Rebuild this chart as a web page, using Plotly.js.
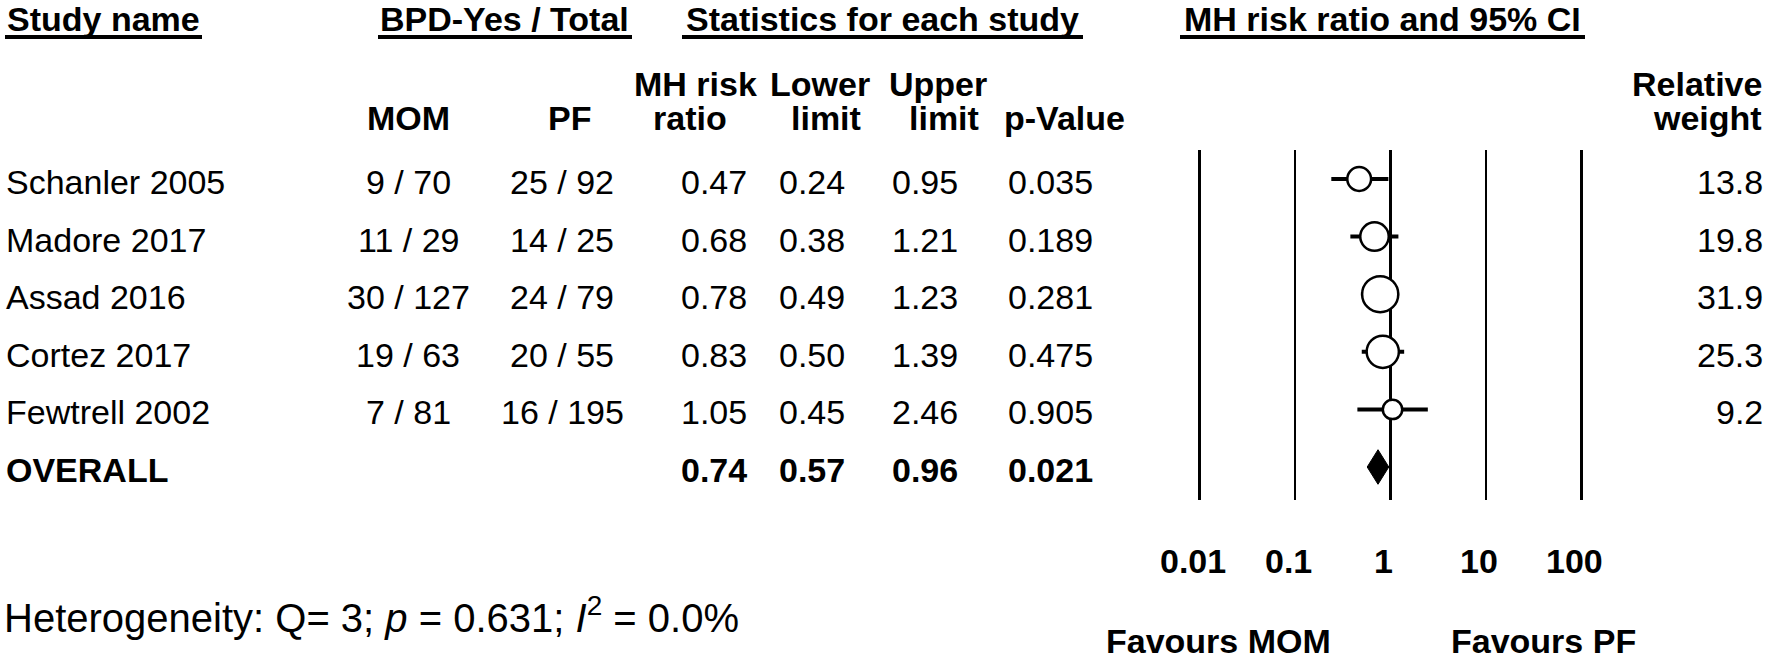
<!DOCTYPE html>
<html>
<head>
<meta charset="utf-8">
<script src="https://cdn.plot.ly/plotly-3.0.1.min.js"></script>
<style>html,body{margin:0;padding:0;background:#fff;}#chart{width:1772px;height:659px;}</style>
</head>
<body>
<div id="chart"></div>
<script>
// ---- data ----
const studies = ['Schanler 2005', 'Madore 2017', 'Assad 2016', 'Cortez 2017', 'Fewtrell 2002'];
const momEvents = [9, 11, 30, 19, 7];
const momTotal = [70, 29, 127, 63, 81];
const pfEvents = [25, 14, 24, 20, 16];
const pfTotal = [92, 25, 79, 55, 195];
const riskRatio = [0.47, 0.68, 0.78, 0.83, 1.05];
const lowerLimit = [0.24, 0.38, 0.49, 0.50, 0.45];
const upperLimit = [0.95, 1.21, 1.23, 1.39, 2.46];
const pValue = ['0.035', '0.189', '0.281', '0.475', '0.905'];
const relWeight = [13.8, 19.8, 31.9, 25.3, 9.2];
const overallLabel = 'OVERALL';
const overallRR = 0.74, overallLower = 0.57, overallUpper = 0.96, overallP = '0.021';
const tickVals = [0.01, 0.1, 1, 10, 100];
const tickLabels = ['0.01', '0.1', '1', '10', '100'];
const heterogeneity = 'Heterogeneity: Q= 3; <i>p</i> = 0.631; <i>I</i><sup>2</sup> = 0.0%';

// ---- layout helpers (pixels) ----
const W = 1772, H = 659;
const FONT = '"Liberation Sans", Arial, sans-serif';
const FS = 34;
const px = p => p / W;
const py = p => 1 - p / H;

const ONE_PX = 1390.5, DEC_PX = 95.5;       // x position of RR=1, pixels per decade
const PLOT_L = 1150, PLOT_R = 1650;
const PLOT_T = 150, PLOT_B = 500;
const ROW0_PX = 179, ROW_PX = 57.6;

const xRange = [(PLOT_L - ONE_PX) / DEC_PX, (PLOT_R - ONE_PX) / DEC_PX];
const yRange = [(PLOT_B - ROW0_PX) / ROW_PX, (PLOT_T - ROW0_PX) / ROW_PX];

const n = studies.length;
const rows = studies.map((_, i) => i);

// ---- traces ----
const studyTrace = {
  type: 'scatter', mode: 'markers',
  x: riskRatio, y: rows,
  marker: {
    symbol: 'circle', color: '#ffffff', opacity: 1,
    size: relWeight.map(w => Math.sqrt(w) * 6.4),
    line: {color: '#000', width: 2.5}
  },
  error_x: {
    type: 'data', symmetric: false,
    array: riskRatio.map((r, i) => upperLimit[i] - r),
    arrayminus: riskRatio.map((r, i) => r - lowerLimit[i]),
    color: '#000', thickness: 4, width: 0
  },
  hoverinfo: 'skip', showlegend: false
};

const dh = 0.3;
const diamondTrace = {
  type: 'scatter', mode: 'lines',
  x: [overallLower, overallRR, overallUpper, overallRR, overallLower],
  y: [n, n - dh, n, n + dh, n],
  fill: 'toself', fillcolor: '#000',
  line: {color: '#000', width: 1},
  hoverinfo: 'skip', showlegend: false
};

// ---- annotations ----
const ann = [];
function txt(text, x, y, opts) {
  ann.push(Object.assign({
    text: text, x: x, y: y, xref: 'paper', yref: 'paper',
    showarrow: false, xanchor: 'center', yanchor: 'middle', borderpad: 0,
    font: {family: FONT, size: FS, color: '#000'}
  }, opts || {}));
}

// top headers
const headers = [
  {t: 'Study name', l: 5, r: 202},
  {t: 'BPD-Yes / Total', l: 378, r: 632},
  {t: 'Statistics for each study', l: 682, r: 1083},
  {t: 'MH risk ratio and 95% CI', l: 1180, r: 1585}
];
const shapes = [];
headers.forEach(h => {
  txt('<b>' + h.t + '</b>', px((h.l + h.r) / 2), py(19));
  shapes.push({type: 'line', xref: 'paper', yref: 'paper',
    x0: px(h.l), x1: px(h.r), y0: py(37), y1: py(37),
    line: {color: '#000', width: 4}});
});

// sub headers
const L1 = 84, L2 = 118;
txt('<b>MOM</b>', px(408), py(L2));
txt('<b>PF</b>', px(569), py(L2));
txt('<b>MH risk</b>', px(695), py(L1));
txt('<b>ratio</b>', px(690), py(L2));
txt('<b>Lower</b>', px(820), py(L1));
txt('<b>limit</b>', px(826), py(L2));
txt('<b>Upper</b>', px(938), py(L1));
txt('<b>limit</b>', px(944), py(L2));
txt('<b>p-Value</b>', px(1064), py(L2));
txt('<b>Relative</b>', px(1763), py(L1), {xanchor: 'right'});
txt('<b>weight</b>', px(1763), py(L2), {xanchor: 'right'});

// study rows
const COL = {mom: 408, pf: 562, rr: 714, lo: 812, hi: 925, p: 1050, w: 1764};
function rowTxt(text, xpx, i, anchor) {
  txt(text, px(xpx), i, {yref: 'y', yshift: -3, xanchor: anchor || 'center'});
}
studies.forEach((s, i) => {
  rowTxt(s, 5, i, 'left');
  rowTxt(momEvents[i] + ' / ' + momTotal[i], COL.mom, i);
  rowTxt(pfEvents[i] + ' / ' + pfTotal[i], COL.pf, i);
  rowTxt(riskRatio[i].toFixed(2), COL.rr, i);
  rowTxt(lowerLimit[i].toFixed(2), COL.lo, i);
  rowTxt(upperLimit[i].toFixed(2), COL.hi, i);
  rowTxt(pValue[i], COL.p, i);
  rowTxt(relWeight[i].toFixed(1), COL.w, i, 'right');
});
rowTxt('<b>' + overallLabel + '</b>', 5, n, 'left');
rowTxt('<b>' + overallRR.toFixed(2) + '</b>', COL.rr, n);
rowTxt('<b>' + overallLower.toFixed(2) + '</b>', COL.lo, n);
rowTxt('<b>' + overallUpper.toFixed(2) + '</b>', COL.hi, n);
rowTxt('<b>' + overallP + '</b>', COL.p, n);

// axis tick labels under the forest plot
tickVals.forEach((v, i) => {
  ann.push({text: '<b>' + tickLabels[i] + '</b>', x: Math.log10(v), y: py(561),
    xref: 'x', yref: 'paper', showarrow: false, xanchor: 'center', yanchor: 'middle',
    borderpad: 0, xshift: -7, font: {family: FONT, size: FS, color: '#000'}});
});
txt('<b>Favours MOM</b>', px(1218), py(641));
txt('<b>Favours PF</b>', px(1543), py(641));
txt(heterogeneity, px(3), py(615), {xanchor: 'left', font: {family: FONT, size: 40, color: '#000'}});

const layout = {
  width: W, height: H,
  margin: {l: 0, r: 0, t: 0, b: 0, pad: 0},
  paper_bgcolor: '#fff', plot_bgcolor: '#fff',
  showlegend: false,
  xaxis: {
    type: 'log', domain: [px(PLOT_L), px(PLOT_R)], range: xRange,
    tickmode: 'array', tickvals: tickVals, showticklabels: false, ticks: '',
    showgrid: true, gridcolor: '#000', gridwidth: 2.7,
    zeroline: false, showline: false, fixedrange: true
  },
  yaxis: {
    domain: [py(PLOT_B), py(PLOT_T)], range: yRange,
    showgrid: false, zeroline: false, showline: false, showticklabels: false, ticks: '',
    fixedrange: true
  },
  annotations: ann,
  shapes: shapes
};

Plotly.newPlot('chart', [studyTrace, diamondTrace], layout, {staticPlot: true, displayModeBar: false});
</script>
</body>
</html>
